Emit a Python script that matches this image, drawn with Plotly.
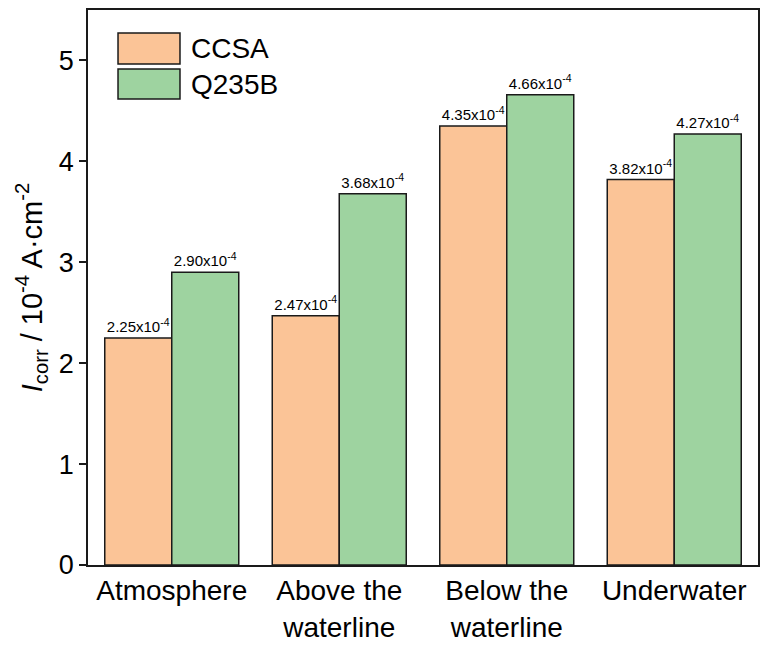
import plotly.graph_objects as go

# corrosion current density, units of 1e-4 A/cm2
sites = ['Atmosphere', 'Above the<br>waterline', 'Below the<br>waterline', 'Underwater']
ccsa = [2.25, 2.47, 4.35, 3.82]
q235b = [2.90, 3.68, 4.66, 4.27]
series_names = ['CCSA', 'Q235B']

colors = ['#FBC497', '#9ED3A0']
font_family = 'Arial, Liberation Sans, sans-serif'

fig = go.Figure()

for name, vals, col in zip(series_names, [ccsa, q235b], colors):
    fig.add_trace(go.Bar(
        x=sites,
        y=vals,
        name=name,
        marker=dict(color=col, line=dict(color='#1a1a1a', width=1.5)),
        text=[f'{v:.2f}x10<sup>-4</sup>' for v in vals],
        textposition='outside',
        constraintext='none',
        cliponaxis=False,
        textfont=dict(size=15, color='black', family=font_family),
    ))

# legend drawn by hand so the swatches can be as big as in the original
legend_y = [(0.9027, 0.9586), (0.8396, 0.8937)]
for name, col, (y0, y1) in zip(series_names, colors, legend_y):
    fig.add_shape(type='rect', xref='paper', yref='paper',
                  x0=0.0448, x1=0.1373, y0=y0, y1=y1,
                  fillcolor=col, line=dict(color='#1a1a1a', width=1.5))
    fig.add_annotation(xref='paper', yref='paper', x=0.1507, y=(y0 + y1) / 2,
                       text=name, showarrow=False, xanchor='left', yanchor='middle',
                       font=dict(size=28, color='black', family=font_family))

fig.update_layout(
    width=768,
    height=647,
    barmode='group',
    bargap=0.2,
    bargroupgap=0,
    showlegend=False,
    plot_bgcolor='white',
    paper_bgcolor='white',
    margin=dict(l=88, r=10, t=10, b=82),
    font=dict(family=font_family, color='black'),
)

fig.update_xaxes(
    showline=True, linecolor='#1a1a1a', linewidth=1.5, mirror=True,
    ticks='', tickfont=dict(size=28),
    showgrid=False, automargin=False,
)
fig.update_yaxes(
    range=[0, 5.5], dtick=1,
    showline=True, linecolor='#1a1a1a', linewidth=1.5, mirror=True,
    ticks='outside', ticklen=7, tickwidth=1.5, tickcolor='#1a1a1a',
    tickfont=dict(size=27),
    showgrid=False, zeroline=False, automargin=False,
    title=dict(text='<i>I</i><sub>corr</sub> / 10<sup>-4</sup> A·cm<sup>-2</sup>',
               font=dict(size=29), standoff=8),
)

# drop the default page margin so the figure sits at the window's corner
fig.write_html('out.html',
               config={'displayModeBar': False},
               post_script="document.body.style.margin='0';document.body.style.overflow='hidden';")
